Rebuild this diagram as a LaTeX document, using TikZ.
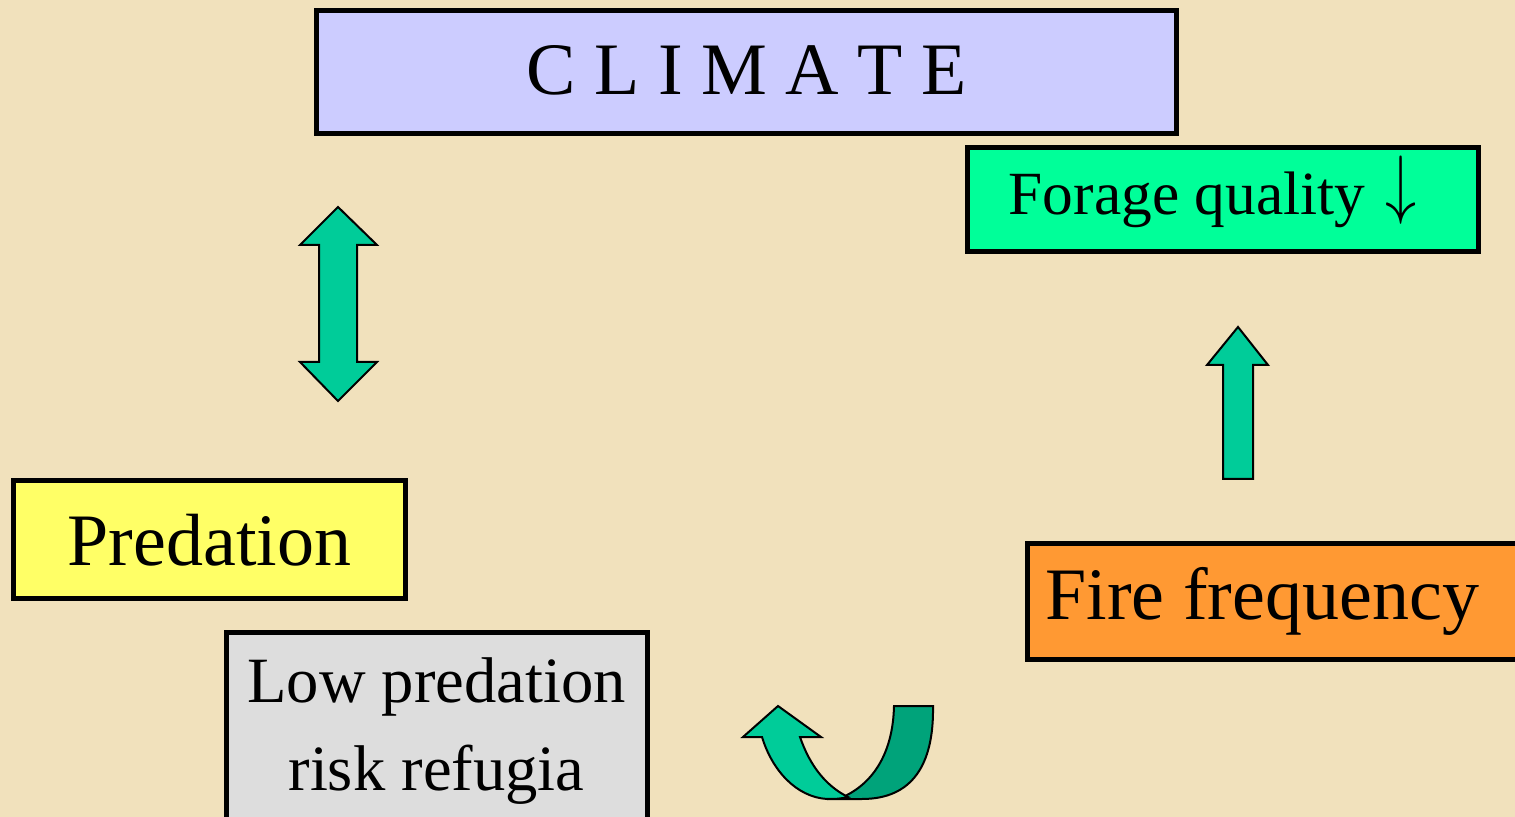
\documentclass[tikz,border=0pt]{standalone}
\usepackage{fontspec}
\setmainfont{Liberation Serif}
\usepackage{graphicx}
\definecolor{bgc}{RGB}{241,225,188}
\definecolor{climc}{HTML}{CCCCFF}
\definecolor{forc}{HTML}{00FF99}
\definecolor{predc}{HTML}{FFFF66}
\definecolor{firec}{HTML}{FF9933}
\definecolor{lowc}{HTML}{DDDDDD}
\definecolor{arrc}{HTML}{00CC99}
\definecolor{arrdark}{HTML}{00A37A}
\begin{document}
\begin{tikzpicture}[x=0.5pt,y=-0.5pt,
  boxstyle/.style={draw=black, line width=2.5pt, rectangle, inner sep=0pt, outer sep=0pt},
  blockarrow/.style={draw=black, line width=1pt, line join=miter, fill=arrc}]
\fill[bgc] (0,0) rectangle (1515,817);
\useasboundingbox (0,0) rectangle (1515,817);
\begin{scope}
\clip (0,0) rectangle (1515,817);
% boxes
\node[boxstyle, fill=climc, minimum width=430pt, minimum height=61.5pt,
  font=\fontsize{37}{40}\selectfont] (climate) at (746.5,72) {\raisebox{2pt}{C L I M A T E}};
\node[boxstyle, fill=forc, minimum width=255.5pt, minimum height=52pt,
  font=\fontsize{30.7}{36}\selectfont] (forage) at (1222.5,200) {Forage quality\hspace{10pt}\smash{\raisebox{2.5pt}{\scalebox{1.25}[1.55]{$\downarrow$}}}\kern10pt};
\node[boxstyle, fill=predc, minimum width=196pt, minimum height=59pt,
  font=\fontsize{37}{40}\selectfont] (pred) at (209.5,540) {Predation};
\node[boxstyle, fill=firec, anchor=west, minimum height=58pt, minimum width=250pt,
  font=\fontsize{37}{40}\selectfont] (fire) at (1027.5,601.5) {\makebox[229pt][l]{\hspace{-1.5pt}\raisebox{-1.5pt}{Fire frequency}}};
\node[boxstyle, fill=lowc, minimum width=210.5pt, minimum height=98.5pt, align=center,
  font=\fontsize{32.3}{44}\selectfont] (low) at (436.5,731) {Low predation\\risk refugia};
\end{scope}
% double arrow
\draw[blockarrow] (338,207) -- (377,245) -- (357,245) -- (357,362) -- (377,362)
  -- (338,401) -- (300,362) -- (319,362) -- (319,245) -- (300,245) -- cycle;
% up arrow
\draw[blockarrow] (1238,327) -- (1268,365) -- (1253,365) -- (1253,479) -- (1223,479)
  -- (1223,365) -- (1207,365) -- cycle;
% curved u-turn arrow: back part
\draw[blockarrow, fill=arrdark] (894,706) -- (933,706)
  .. controls (934,765) and (912,799) .. (862,799) -- (827,799)
  -- (845,796) .. controls (874,782) and (893,752) .. cycle;
% front part
\draw[blockarrow] (743,737) -- (778,706) -- (821,737) -- (800,737)
  .. controls (810,766) and (826,786) .. (848,797)
  .. controls (840,799) and (834,799) .. (827,799)
  .. controls (796,797) and (772,770) .. (762,737) -- cycle;
\end{tikzpicture}
\end{document}
